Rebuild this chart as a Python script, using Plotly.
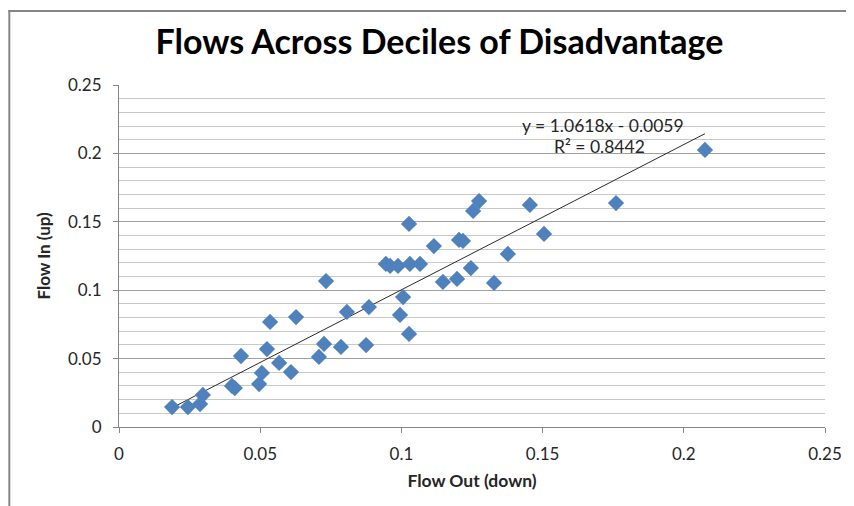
import plotly.graph_objects as go

# Data
flow_out = [0.0188, 0.0244, 0.0287, 0.0297, 0.0400, 0.0410, 0.0432, 0.0496, 0.0506, 0.0524,
            0.0535, 0.0567, 0.0609, 0.0627, 0.0708, 0.0726, 0.0733, 0.0786, 0.0807, 0.0875,
            0.0885, 0.0945, 0.0960, 0.0988, 0.0995, 0.1006, 0.1027, 0.1027, 0.1030, 0.1066,
            0.1115, 0.1147, 0.1197, 0.1204, 0.1218, 0.1246, 0.1254, 0.1275, 0.1328, 0.1377,
            0.1455, 0.1505, 0.1760, 0.2075]
flow_in = [0.0146, 0.0146, 0.0168, 0.0234, 0.0300, 0.0285, 0.0519, 0.0314, 0.0395, 0.0570,
           0.0768, 0.0468, 0.0402, 0.0804, 0.0512, 0.0607, 0.1067, 0.0585, 0.0841, 0.0599,
           0.0877, 0.1192, 0.1177, 0.1177, 0.0819, 0.0950, 0.0680, 0.1484, 0.1192, 0.1192,
           0.1323, 0.1060, 0.1082, 0.1367, 0.1360, 0.1162, 0.1579, 0.1652, 0.1053, 0.1265,
           0.1623, 0.1411, 0.1637, 0.2025]

slope = 1.0618
intercept = -0.0059
r_squared = 0.8442

x_ticks = [0, 0.05, 0.1, 0.15, 0.2, 0.25]
x_tick_labels = ["0", "0.05", "0.1", "0.15", "0.2", "0.25"]
y_ticks = [0, 0.05, 0.1, 0.15, 0.2, 0.25]
y_tick_labels = ["0", "0.05", "0.1", "0.15", "0.2", "0.25"]

title_text = "Flows Across Deciles of Disadvantage"
x_title = "Flow Out (down)"
y_title = "Flow In (up)"

FONT = "Lato, Carlito, Calibri, 'Liberation Sans', sans-serif"

x_min, x_max = min(flow_out), max(flow_out)
trend_x = [x_min, x_max]
trend_y = [slope * v + intercept for v in trend_x]

fig = go.Figure()

fig.add_trace(go.Scatter(
    x=trend_x, y=trend_y, mode="lines",
    line=dict(color="#2b2b2b", width=1),
    hoverinfo="skip", showlegend=False,
))

fig.add_trace(go.Scatter(
    x=flow_out, y=flow_in, mode="markers",
    marker=dict(symbol="diamond", size=12.5, color="#4F81BD",
                line=dict(width=0)),
    showlegend=False,
))

fig.add_annotation(
    x=0.1715, y=0.2205, xref="x", yref="y",
    text=f"y = {slope}x - {abs(intercept):.4f}",
    showarrow=False, font=dict(family=FONT, size=17.5, color="#262626"),
)
fig.add_annotation(
    x=0.170, y=0.2050, xref="x", yref="y",
    text=f"R² = {r_squared}",
    showarrow=False, font=dict(family=FONT, size=17.5, color="#262626"),
)

# page body has an 8px margin, so the figure starts at (8, 8)
fig.update_layout(
    width=846, height=498,
    margin=dict(l=111, r=27, t=77, b=79),
    paper_bgcolor="white", plot_bgcolor="white",
    font=dict(family=FONT, size=17, color="#262626"),
    title=dict(text=f"<b>{title_text}</b>", x=0.510, xanchor="center",
               y=0.931, yanchor="middle",
               font=dict(family=FONT, size=34, color="black")),
    xaxis=dict(
        range=[0, 0.25], tickvals=x_ticks, ticktext=x_tick_labels,
        showgrid=False, zeroline=False,
        showline=True, linecolor="#868686", linewidth=1,
        ticks="outside", ticklen=5, tickcolor="#868686",
        ticklabelstandoff=7,
        tickfont=dict(family=FONT, size=17, color="#262626"),
        title=dict(text=f"<b>{x_title}</b>", standoff=11,
                   font=dict(family=FONT, size=17.5, color="#262626")),
    ),
    yaxis=dict(
        range=[0, 0.25], tickvals=y_ticks, ticktext=y_tick_labels,
        showgrid=True, gridcolor="#a0a0a0", gridwidth=1,
        minor=dict(dtick=0.01, showgrid=True, gridcolor="#c8c8c8", gridwidth=1),
        zeroline=False,
        showline=True, linecolor="#868686", linewidth=1,
        ticks="outside", ticklen=5, tickcolor="#868686",
        ticklabelstandoff=8,
        tickfont=dict(family=FONT, size=17, color="#262626"),
        title=dict(text=f"<b>{y_title}</b>", standoff=13,
                   font=dict(family=FONT, size=17, color="#262626")),
    ),
)

# chart-area border (top and left edges visible in the frame), drawn as thin filled bars
fig.add_shape(type="rect", xref="paper", yref="paper",
              x0=-111/708, x1=1 + 27/708, y0=1 + 73/342, y1=1 + 75/342,
              fillcolor="#868686", line=dict(width=0), layer="above")
fig.add_shape(type="rect", xref="paper", yref="paper",
              x0=-111/708, x1=-109/708, y0=-79/342, y1=1 + 75/342,
              fillcolor="#868686", line=dict(width=0), layer="above")

fig.write_html("out.html")
